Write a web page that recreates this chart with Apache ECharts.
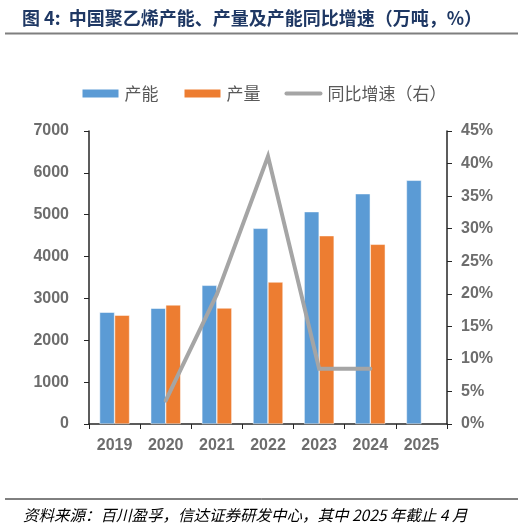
<!DOCTYPE html>
<html>
<head>
<meta charset="utf-8">
<script src="https://cdn.jsdelivr.net/npm/echarts@6/dist/echarts.min.js"></script>
<style>
html,body{margin:0;padding:0;background:#fff;}
#main{width:527px;height:526px;}
</style>
</head>
<body>
<div id="main"></div>
<script>
const years = ['2019','2020','2021','2022','2023','2024','2025'];
const capacity = [2670, 2765, 3313, 4675, 5073, 5502, 5822];
const output = [2600, 2845, 2771, 3392, 4499, 4293, null];
const growth = [null, 3.6, 19.9, 41.1, 8.5, 8.5, null];
const leftTicks = {min: 0, max: 7000, interval: 1000};
const rightTicks = {min: 0, max: 45, interval: 5};

const chart = echarts.init(document.getElementById('main'));
const labelFont = {color: '#6d6d6d', fontSize: 16, fontWeight: 'bold', fontFamily: 'Liberation Sans, Arial, sans-serif'};
chart.setOption({
  animation: false,
  backgroundColor: '#fff',
  title: [
    {text: '图 4:  中国聚乙烯产能、产量及产能同比增速（万吨，%）', left: 17, top: 4,
     textStyle: {color: '#1f3864', fontSize: 18, fontWeight: 'bold', fontFamily: 'Noto Sans CJK SC, sans-serif'}},
    {text: '资料来源：百川盈孚，信达证券研发中心，其中 2025 年截止 4 月', left: 18, top: 502,
     textStyle: {color: '#000', fontSize: 15.5, fontWeight: 'normal', fontStyle: 'italic', fontFamily: 'Noto Sans CJK SC, sans-serif'}}
  ],
  graphic: [
    {type: 'line', shape: {x1: 5, y1: 33.5, x2: 518, y2: 33.5}, style: {stroke: '#7f7f7f', lineWidth: 2}},
    {type: 'line', shape: {x1: 5, y1: 499, x2: 518, y2: 499}, style: {stroke: '#000', lineWidth: 1}}
  ],
  legend: {
    top: 80, left: 'center',
    itemWidth: 38, itemHeight: 10, itemGap: 24,
    textStyle: {color: '#595959', fontSize: 17, fontFamily: 'Noto Sans CJK SC, sans-serif'},
    data: [
      {name: '产能', icon: 'rect'},
      {name: '产量', icon: 'rect'},
      {name: '同比增速（右）', icon: 'path://M2,0 H38 A2,2 0 0 1 38,4 H2 A2,2 0 0 1 2,0 Z', itemStyle: {color: '#a5a5a5', borderWidth: 0}}
    ]
  },
  grid: {left: 89, right: 80, top: 131, bottom: 102},
  xAxis: {
    type: 'category', data: years,
    axisLine: {lineStyle: {color: '#262626', width: 1.5}},
    axisTick: {show: true, alignWithLabel: false, length: 5, lineStyle: {color: '#262626'}},
    axisLabel: Object.assign({margin: 14}, labelFont)
  },
  yAxis: [
    {type: 'value', min: leftTicks.min, max: leftTicks.max, interval: leftTicks.interval,
     axisLine: {show: true, lineStyle: {color: '#262626', width: 1.5}},
     axisTick: {show: true, length: 5, lineStyle: {color: '#262626'}},
     splitLine: {show: false},
     axisLabel: Object.assign({margin: 20, formatter: function (v) { return String(v); }}, labelFont)},
    {type: 'value', min: rightTicks.min, max: rightTicks.max, interval: rightTicks.interval, position: 'right',
     axisLine: {show: true, lineStyle: {color: '#262626', width: 1.5}},
     axisTick: {show: true, length: 5, lineStyle: {color: '#262626'}},
     splitLine: {show: false},
     axisLabel: Object.assign({margin: 14, formatter: '{value}%'}, labelFont)}
  ],
  series: [
    {name: '产能', type: 'bar', data: capacity, barWidth: 15, barGap: '0%',
     itemStyle: {color: '#5b9bd5', borderColor: '#fff', borderWidth: 0.5}},
    {name: '产量', type: 'bar', data: output, barWidth: 15, barGap: '0%',
     itemStyle: {color: '#ed7d31', borderColor: '#fff', borderWidth: 0.5}},
    {name: '同比增速（右）', type: 'line', yAxisIndex: 1, data: growth, symbol: 'none',
     lineStyle: {color: '#a5a5a5', width: 4, cap: 'round', join: 'miter'},
     itemStyle: {color: '#a5a5a5'}}
  ]
});
</script>
</body>
</html>
